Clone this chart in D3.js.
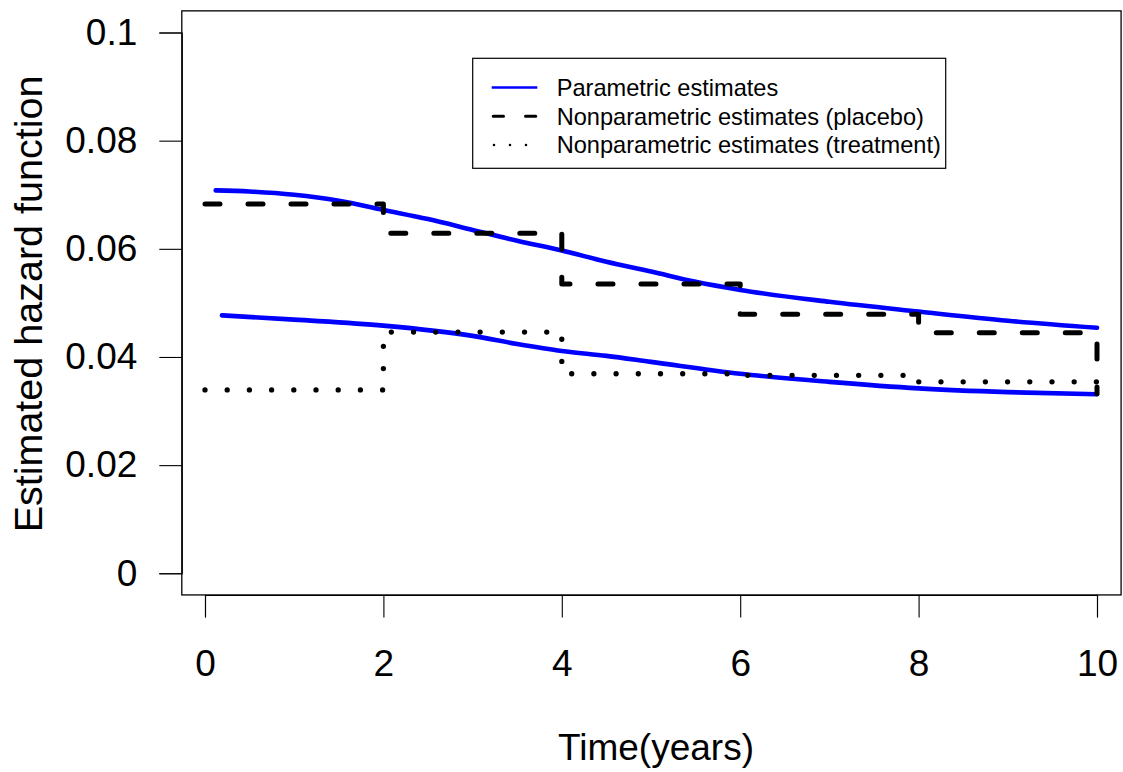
<!DOCTYPE html>
<html>
<head>
<meta charset="utf-8">
<script src="https://cdn.jsdelivr.net/npm/d3@7"></script>
<style>
body { margin: 0; background: #fff; }
text { font-family: "Liberation Sans", Arial, Helvetica, sans-serif; fill: #000; }
</style>
</head>
<body>
<div id="chart"></div>
<script>
//nonparametric step estimates, one value per interval (last one closes the step at t=10)
var stepTimes = [0, 2, 4, 6, 8, 10];
var placeboHazard = [0.0683, 0.0629, 0.0535, 0.0479, 0.0445, 0.0332];
var treatmentHazard = [0.0339, 0.0446, 0.0369, 0.0366, 0.0354, 0.0354];

//parametric curves
var placeboCurveTimes = [0.12, 0.5, 1, 1.5, 2, 2.5, 3, 3.5, 4, 4.5, 5, 5.5, 6, 7, 8, 9, 10];
var placeboCurve = [0.0708, 0.0706, 0.0700, 0.0689, 0.0672, 0.0655, 0.0635, 0.0615, 0.0597, 0.0576, 0.0558, 0.0539, 0.0524, 0.0502, 0.0484, 0.0467, 0.0454];
var treatmentCurveTimes = [0.19, 1, 2, 3, 3.5, 4, 4.5, 5, 6, 7, 8, 9, 10];
var treatmentCurve = [0.0477, 0.0469, 0.0458, 0.0439, 0.0424, 0.0411, 0.0402, 0.0391, 0.0369, 0.0354, 0.0342, 0.0335, 0.0331];

var xTicks = [0, 2, 4, 6, 8, 10];
var yTicks = [0, 0.02, 0.04, 0.06, 0.08, 0.1];
var yTickLabels = ["0", "0.02", "0.04", "0.06", "0.08", "0.1"];

var legendLabels = ["Parametric estimates", "Nonparametric estimates (placebo)", "Nonparametric estimates (treatment)"];

//window layout
var svgWidth = 1123;
var svgHeight = 772;

var svg = d3.select('#chart')
        .append('svg')
        .attr('width', svgWidth)
        .attr('height', svgHeight);

//scales
var x = d3.scaleLinear().domain([0, 10]).range([205, 1097]);
var y = d3.scaleLinear().domain([0, 0.1]).range([573.3, 32.5]);
var xlim = [-0.26, 10.27];
var ylim = [-0.004, 0.104];

//plot box
svg.append('rect')
        .attr('x', x(xlim[0]))
        .attr('y', y(ylim[1]))
        .attr('width', x(xlim[1]) - x(xlim[0]))
        .attr('height', y(ylim[0]) - y(ylim[1]))
        .attr('fill', 'none')
        .attr('stroke', '#000')
        .attr('stroke-width', 1.3);

//axes
var bottomAxis = d3.axisBottom(x).tickValues(xTicks).tickSize(22.5).tickPadding(32).tickFormat(d3.format('d'));
var leftAxis = d3.axisLeft(y).tickValues(yTicks).tickSize(22.5).tickPadding(22).tickFormat((d, i) => yTickLabels[i]);

var gx = svg.append('g')
        .attr('transform', `translate(0, ${y(ylim[0])})`)
        .call(bottomAxis);
var gy = svg.append('g')
        .attr('transform', `translate(${x(xlim[0])}, 0)`)
        .call(leftAxis);

[gx, gy].forEach(g => {
    g.selectAll('path, line').attr('stroke', '#000').attr('stroke-width', 1.1);
    g.selectAll('text').style('font-size', '37px').attr('fill', '#000');
});
gx.selectAll('text').attr('dy', '0.71em');

//axis titles
svg.append('text')
        .attr('x', 656)
        .attr('y', 760)
        .style('font-size', '37px')
        .style('text-anchor', 'middle')
        .text('Time(years)');

svg.append('text')
        .attr('transform', 'translate(42, 304) rotate(-90)')
        .style('font-size', '39.5px')
        .style('text-anchor', 'middle')
        .text('Estimated hazard function');

//lines
var stepLine = d3.line()
        .x(d => x(d[0]))
        .y(d => y(d[1]))
        .curve(d3.curveStepAfter);

var smoothLine = d3.line()
        .x(d => x(d[0]))
        .y(d => y(d[1]))
        .curve(d3.curveMonotoneX);

svg.append('path')
        .datum(d3.zip(placeboCurveTimes, placeboCurve))
        .attr('d', smoothLine)
        .attr('fill', 'none')
        .attr('stroke', '#0000ff')
        .attr('stroke-width', 4.6)
        .attr('stroke-linecap', 'round');

svg.append('path')
        .datum(d3.zip(treatmentCurveTimes, treatmentCurve))
        .attr('d', smoothLine)
        .attr('fill', 'none')
        .attr('stroke', '#0000ff')
        .attr('stroke-width', 4.6)
        .attr('stroke-linecap', 'round');

svg.append('path')
        .datum(d3.zip(stepTimes, placeboHazard))
        .attr('d', stepLine)
        .attr('fill', 'none')
        .attr('stroke', '#000')
        .attr('stroke-width', 5)
        .attr('stroke-linecap', 'round')
        .attr('stroke-linejoin', 'round')
        .attr('stroke-dasharray', '15,28');

svg.append('path')
        .datum(d3.zip(stepTimes, treatmentHazard))
        .attr('d', stepLine)
        .attr('fill', 'none')
        .attr('stroke', '#000')
        .attr('stroke-width', 5.3)
        .attr('stroke-linecap', 'round')
        .attr('stroke-dasharray', '0,22.2');

//legend
var legend = svg.append('g');
legend.append('rect')
        .attr('x', 472.7)
        .attr('y', 58.3)
        .attr('width', 473)
        .attr('height', 110)
        .attr('fill', '#fff')
        .attr('stroke', '#000')
        .attr('stroke-width', 1.2);

var legendStyles = [
    {color: '#0000ff', width: 2.7, dash: null, x1: 491.7, x2: 537.3, cap: 'butt'},
    {color: '#000', width: 3, dash: '10.3,22', x1: 493.2, x2: 535.8, cap: 'round'},
    {color: '#000', width: 2.6, dash: '0,16', x1: 494, x2: 527, cap: 'round'}
];
var legendRows = [87.5, 116.3, 145];

legendLabels.forEach((label, i) => {
    var s = legendStyles[i];
    legend.append('line')
        .attr('x1', s.x1).attr('x2', s.x2)
        .attr('y1', legendRows[i]).attr('y2', legendRows[i])
        .attr('stroke', s.color)
        .attr('stroke-width', s.width)
        .attr('stroke-linecap', s.cap)
        .attr('stroke-dasharray', s.dash);
    legend.append('text')
        .attr('x', 556.7)
        .attr('y', legendRows[i])
        .attr('dy', '0.36em')
        .style('font-size', '23.6px')
        .text(label);
});
</script>
</body>
</html>
